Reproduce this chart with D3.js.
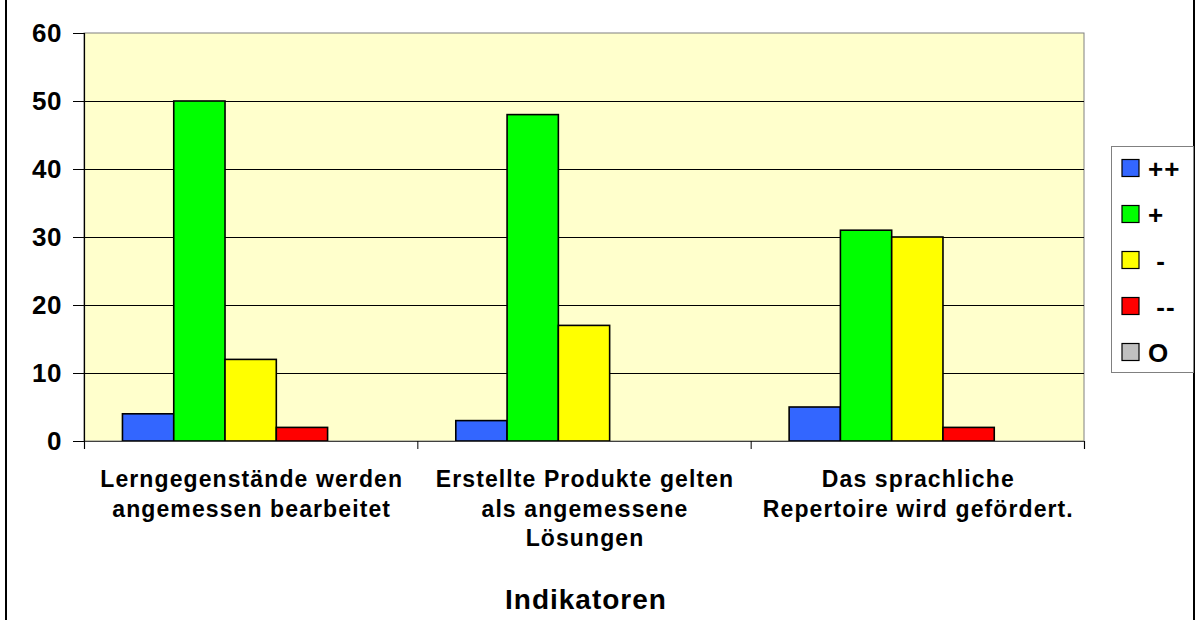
<!DOCTYPE html>
<html>
<head>
<meta charset="utf-8">
<script src="https://cdn.jsdelivr.net/npm/d3@7"></script>
<style>
  html, body { margin: 0; padding: 0; background: #fff; }
  svg { display: block; font-family: Arial, "Liberation Sans", sans-serif; }
</style>
</head>
<body>
<svg id="chart" width="1196" height="620"></svg>
<script>
// ---- data ----
const categories = [
  "Lerngegenstände werden\nangemessen bearbeitet",
  "Erstellte Produkte gelten\nals angemessene\nLösungen",
  "Das sprachliche\nRepertoire wird gefördert."
];
const seriesNames = ["++", "+", " -", " --", "O"];
const seriesColors = ["#3366FF", "#00FF00", "#FFFF00", "#FF0000", "#C0C0C0"];
const valuesPlusPlus = [4, 3, 5];
const valuesPlus = [50, 48, 31];
const valuesMinus = [12, 17, 30];
const valuesMinusMinus = [2, 0, 2];
const valuesO = [0, 0, 0];
const yTicks = [0, 10, 20, 30, 40, 50, 60];
const xTitle = "Indikatoren";

const seriesValues = [valuesPlusPlus, valuesPlus, valuesMinus, valuesMinusMinus, valuesO];

// ---- layout ----
const svg = d3.select("#chart");
const plot = { left: 84, right: 1084, top: 33, bottom: 441 };

// outer chart border
svg.append("rect")
  .attr("x", 6).attr("y", -10).attr("width", 1188).attr("height", 640)
  .attr("fill", "#fff").attr("stroke", "#000").attr("stroke-width", 2);

const y = d3.scaleLinear().domain([0, 60]).range([plot.bottom, plot.top]);
const x0 = d3.scaleBand().domain(d3.range(categories.length)).range([plot.left, plot.right]).padding(0);
const x1 = d3.scaleBand().domain(d3.range(seriesNames.length)).range([0, x0.bandwidth()])
  .paddingInner(0).paddingOuter(0.75);

// plot background
svg.append("rect")
  .attr("x", plot.left).attr("y", plot.top)
  .attr("width", plot.right - plot.left).attr("height", plot.bottom - plot.top)
  .attr("fill", "#FFFFCC").attr("stroke", "#808080").attr("stroke-width", 1);

// gridlines
svg.append("g").selectAll("line")
  .data(yTicks.filter(t => t > 0 && t < 60))
  .join("line")
  .attr("x1", plot.left).attr("x2", plot.right)
  .attr("y1", d => Math.round(y(d)) + 0.5).attr("y2", d => Math.round(y(d)) + 0.5)
  .attr("stroke", "#000").attr("stroke-width", 1);

// bars
const groups = svg.append("g").selectAll("g")
  .data(categories.map((c, i) => i))
  .join("g")
  .attr("transform", i => `translate(${x0(i)},0)`);

groups.selectAll("rect")
  .data(i => seriesValues.map((vals, s) => ({ s, v: vals[i] })))
  .join("rect")
  .attr("x", d => x1(d.s))
  .attr("width", x1.bandwidth())
  .attr("y", d => y(d.v))
  .attr("height", d => y(0) - y(d.v))
  .attr("fill", d => seriesColors[d.s])
  .attr("stroke", d => d.v > 0 ? "#000" : "none")
  .attr("stroke-width", 1.6);

// y axis
const yAxis = d3.axisLeft(y).tickValues(yTicks).tickSize(11).tickPadding(11);
const gy = svg.append("g").attr("transform", `translate(${plot.left},0)`).call(yAxis);
gy.select(".domain").attr("stroke", "#000").attr("stroke-width", 1.2);
gy.selectAll(".tick line").attr("stroke", "#000");
gy.selectAll(".tick text")
  .attr("font-size", 26).attr("font-weight", "bold").attr("fill", "#000")
  .attr("font-family", "Arial, 'Liberation Sans', sans-serif")
  .style("letter-spacing", "0.5px");

// x axis (category boundaries)
const xBound = d3.scaleLinear().domain([0, categories.length]).range([plot.left, plot.right]);
const xAxis = d3.axisBottom(xBound).tickValues(d3.range(categories.length + 1)).tickSize(8).tickFormat("");
const gx = svg.append("g").attr("transform", `translate(0,${plot.bottom})`).call(xAxis);
gx.select(".domain").attr("stroke", "#404040").attr("stroke-width", 1.2);
gx.selectAll(".tick line").attr("stroke", "#000");

// category labels
const catLabels = svg.append("g")
  .attr("font-size", 23).attr("font-weight", "bold").attr("fill", "#000")
  .attr("text-anchor", "middle").style("letter-spacing", "1.1px");
categories.forEach((c, i) => {
  const cx = x0(i) + x0.bandwidth() / 2 + 1;
  const t = catLabels.append("text").attr("x", cx).attr("y", 487);
  c.split("\n").forEach((line, k) => {
    t.append("tspan").attr("x", cx).attr("dy", k === 0 ? 0 : 29.5).text(line);
  });
});

// x title
svg.append("text")
  .attr("x", (plot.left + plot.right) / 2 + 2).attr("y", 609)
  .attr("text-anchor", "middle").attr("font-size", 28).attr("font-weight", "bold")
  .style("letter-spacing", "1px")
  .text(xTitle);

// legend
const legend = { x: 1111, y: 146, w: 82, h: 226 };
svg.append("rect")
  .attr("x", legend.x + 0.5).attr("y", legend.y + 0.5)
  .attr("width", legend.w).attr("height", legend.h)
  .attr("fill", "#fff").attr("stroke", "#808080").attr("stroke-width", 1);
const legY = d3.scalePoint().domain(d3.range(seriesNames.length)).range([168, 352]);
const li = svg.append("g").selectAll("g")
  .data(seriesNames.map((n, i) => i))
  .join("g")
  .attr("transform", i => `translate(0,${legY(i)})`);
li.append("rect")
  .attr("x", 1122).attr("y", -8.5).attr("width", 17).attr("height", 17)
  .attr("fill", i => seriesColors[i]).attr("stroke", "#000").attr("stroke-width", 1.2);
li.append("text")
  .attr("x", 1148).attr("y", 1).attr("dominant-baseline", "central")
  .attr("font-size", 26).attr("font-weight", "bold")
  .style("white-space", "pre").style("letter-spacing", "1px")
  .text(i => seriesNames[i]);
</script>
</body>
</html>
